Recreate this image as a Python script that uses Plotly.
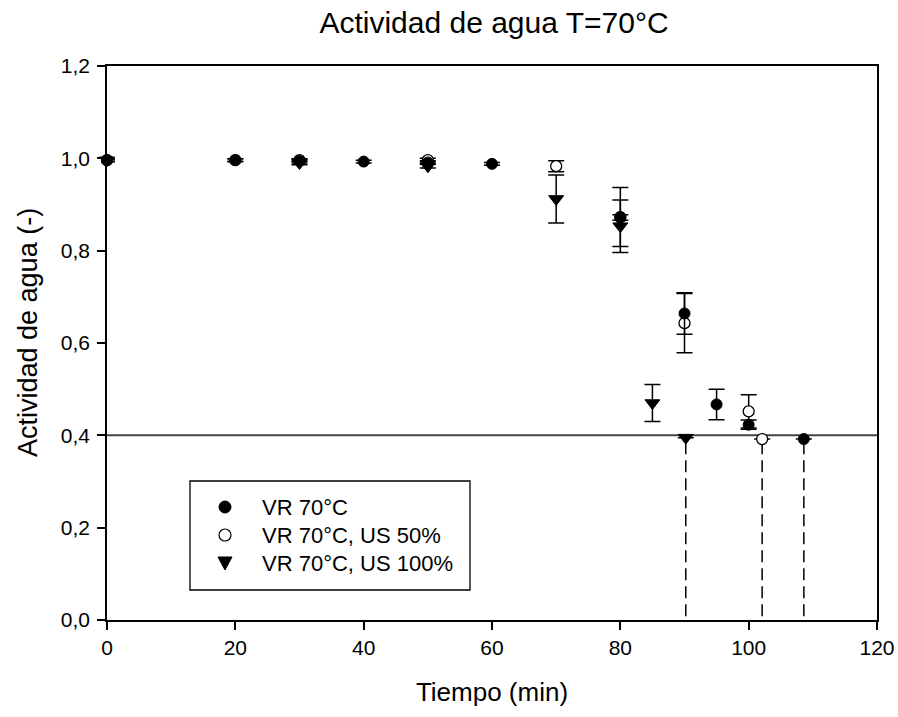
import plotly.graph_objects as go

# ---- data ----
vr_x   = [0, 20, 30, 40, 50, 60, 80, 90, 95, 100, 108.6]
vr_y   = [0.996, 0.996, 0.994, 0.993, 0.991, 0.988, 0.873, 0.664, 0.467, 0.423, 0.392]
vr_err = [0.003, 0.003, 0.004, 0.003, 0.004, 0.003, 0.064, 0.045, 0.033, 0.010, 0.0]

us50_x   = [0, 20, 30, 50, 70, 80, 90, 100, 102.1]
us50_y   = [0.996, 0.996, 0.996, 0.996, 0.983, 0.872, 0.643, 0.452, 0.392]
us50_err = [0.003, 0.003, 0.003, 0.004, 0.012, 0.006, 0.064, 0.036, 0.0]

us100_x   = [0, 30, 50, 70, 80, 85, 90.2]
us100_y   = [0.996, 0.990, 0.983, 0.912, 0.853, 0.470, 0.395]
us100_err = [0.003, 0.004, 0.004, 0.052, 0.057, 0.040, 0.0]

aw_limit = 0.4
cross_x = [90.2, 102.1, 108.6]

x_ticks = [0, 20, 40, 60, 80, 100, 120]
y_ticks = [0.0, 0.2, 0.4, 0.6, 0.8, 1.0, 1.2]

legend_names = ["VR 70°C", "VR 70°C, US 50%", "VR 70°C, US 100%"]

FONT = "Liberation Sans, Arial, sans-serif"

fig = go.Figure()

# threshold line
fig.add_trace(go.Scatter(x=[x_ticks[0], x_ticks[-1]], y=[aw_limit, aw_limit], mode="lines",
                         line=dict(color="#444444", width=2), showlegend=False, hoverinfo="skip"))

# dashed drops
dx, dy = [], []
for cx in cross_x:
    dx += [cx, cx, None]
    dy += [aw_limit - 0.015, 0, None]
fig.add_trace(go.Scatter(x=dx, y=dy, mode="lines",
                         line=dict(color="black", width=1.5, dash="12px,6px"),
                         showlegend=False, hoverinfo="skip"))

err_style = dict(type="data", visible=True, color="black", thickness=1.5, width=8)

fig.add_trace(go.Scatter(
    x=us50_x, y=us50_y, mode="markers", name=legend_names[1], cliponaxis=False,
    error_y=dict(array=us50_err, **err_style),
    marker=dict(symbol="circle", size=11, color="white", line=dict(color="black", width=1.3)),
    showlegend=False))

fig.add_trace(go.Scatter(
    x=vr_x, y=vr_y, mode="markers", name=legend_names[0], cliponaxis=False,
    error_y=dict(array=vr_err, **err_style),
    marker=dict(symbol="circle", size=11, color="black", line=dict(color="black", width=1)),
    showlegend=False))

fig.add_trace(go.Scatter(
    x=us100_x, y=us100_y, mode="markers", name=legend_names[2], cliponaxis=False,
    error_y=dict(array=us100_err, **err_style),
    marker=dict(symbol="triangle-down", size=13, color="black", line=dict(color="black", width=1)),
    showlegend=False))

L, R, T, B = 107, 21, 66, 97
W, H = 898, 717
pw, ph = W - L - R, H - T - B

def px2paper_x(px):
    return (px - L) / pw

def px2paper_y(py):
    return (H - B - py) / ph

axis_common = dict(showline=True, linecolor="black", linewidth=1.5, mirror=True,
                   ticks="outside", ticklen=8, tickwidth=1.5, tickcolor="black",
                   showgrid=False, zeroline=False, automargin=False,
                   tickfont=dict(family=FONT, size=21, color="black"))

# manual legend
shapes = [dict(type="rect", xref="paper", yref="paper",
               x0=px2paper_x(190), x1=px2paper_x(470), y0=px2paper_y(590), y1=px2paper_y(481),
               line=dict(color="black", width=1.3), fillcolor="rgba(0,0,0,0)", layer="above")]
rows = [507, 535, 563]
mx = 225
r = 6
shapes.append(dict(type="circle", xref="paper", yref="paper",
                   x0=px2paper_x(mx - r), x1=px2paper_x(mx + r),
                   y0=px2paper_y(rows[0] + r), y1=px2paper_y(rows[0] - r),
                   fillcolor="black", line=dict(color="black", width=1)))
shapes.append(dict(type="circle", xref="paper", yref="paper",
                   x0=px2paper_x(mx - r), x1=px2paper_x(mx + r),
                   y0=px2paper_y(rows[1] + r), y1=px2paper_y(rows[1] - r),
                   fillcolor="white", line=dict(color="black", width=1.2)))
tp = "M {:.5f},{:.5f} L {:.5f},{:.5f} L {:.5f},{:.5f} Z".format(
    px2paper_x(mx - 7), px2paper_y(rows[2] - 6),
    px2paper_x(mx + 7), px2paper_y(rows[2] - 6),
    px2paper_x(mx), px2paper_y(rows[2] + 7))
shapes.append(dict(type="path", xref="paper", yref="paper", path=tp,
                   fillcolor="black", line=dict(color="black", width=1)))

annotations = [dict(text=name, xref="paper", yref="paper", x=px2paper_x(260), y=px2paper_y(ry),
                    xanchor="left", yanchor="middle", showarrow=False,
                    font=dict(family=FONT, size=22, color="black"))
               for name, ry in zip(legend_names, rows)]

# y-axis title as rotated annotation
annotations.append(dict(text="Actividad de agua (-)", xref="paper", yref="paper",
                        x=px2paper_x(28), y=px2paper_y(333), xanchor="center", yanchor="middle",
                        textangle=-90, showarrow=False,
                        font=dict(family=FONT, size=27, color="black")))

fig.update_layout(
    width=W, height=H,
    margin=dict(l=L, r=R, t=T, b=B),
    paper_bgcolor="white", plot_bgcolor="white",
    separators=",.",
    showlegend=False,
    title=dict(text="Actividad de agua T=70°C", x=494 / W,
               xanchor="center", y=1 - 22 / H, yanchor="middle",
               font=dict(family=FONT, size=30, color="black")),
    xaxis=dict(range=[0, 120], tickvals=x_ticks, **axis_common,
               title=dict(text="Tiempo (min)", font=dict(family=FONT, size=26, color="black"), standoff=25)),
    yaxis=dict(range=[0, 1.2], tickvals=y_ticks, tickformat=".1f", ticklabelstandoff=3, **axis_common),
    shapes=shapes,
    annotations=annotations,
)

fig.write_html("out.html")
